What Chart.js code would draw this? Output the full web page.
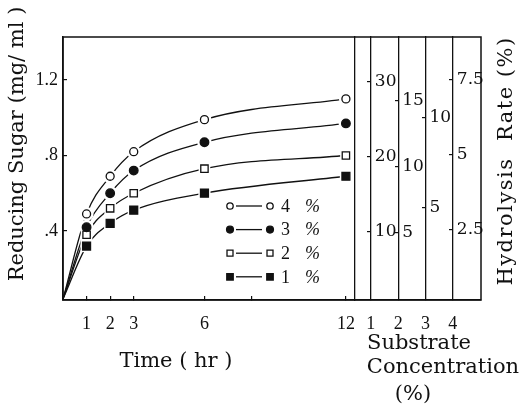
<!DOCTYPE html>
<html>
<head>
<meta charset="utf-8">
<script src="https://cdn.jsdelivr.net/npm/chart.js@4.4.1/dist/chart.umd.min.js"></script>
<style>
  html, body { margin: 0; padding: 0; background: #fff; }
  #chart { display: block; }
</style>
</head>
<body>
<canvas id="chart" width="526" height="412"></canvas>
<script>
// reducing sugar over time, one curve per substrate concentration
const hours = [0, 1, 2, 3, 6, 12];
const seriesNames = ['4', '3', '2', '1'];
const sugar4 = [0.04, 0.49, 0.69, 0.82, 0.99, 1.10];
const sugar3 = [0.04, 0.42, 0.60, 0.72, 0.87, 0.97];
const sugar2 = [0.04, 0.38, 0.52, 0.60, 0.73, 0.80];
const sugar1 = [0.04, 0.32, 0.44, 0.51, 0.60, 0.69];

const timeTicks = [1, 2, 3, 6, 8, 12];
const timeTickLabels = ['1', '2', '3', '6', '', '12'];
const sugarTicks = [0.4, 0.8, 1.2];
const sugarTickLabels = ['.4', '.8', '1.2'];

// hydrolysis rate scales, one per substrate concentration
const substrates = [1, 2, 3, 4];
const rateTicks1 = [10, 20, 30];
const rateTicks2 = [5, 10, 15];
const rateTicks3 = [5, 10];
const rateTicks4 = [2.5, 5, 7.5];
const rateMin = [0.93, -0.08, -0.11, 0.17];
const rateMax = [36.0, 19.85, 14.5, 8.93];

const ink = '#111';
const serif = '"DejaVu Serif", serif';
const numFont = { family: '"Liberation Serif", serif', size: 18 };

const markers = [
  { style: 'circle', fill: '#fff', r: 4 },
  { style: 'circle', fill: ink, r: 4.3 },
  { style: 'rect', fill: '#fff', r: 5.2 },
  { style: 'rect', fill: ink, r: 5.6 }
];

const allSugar = [sugar4, sugar3, sugar2, sugar1];
const datasets = [];
allSugar.forEach((vals, i) => {
  const pts = hours.map((h, j) => ({ x: h, y: vals[j] }));
  const m = markers[i];
  const skip = c => c.dataIndex === 0;
  datasets.push({
    label: seriesNames[i] + ' %', data: pts, order: 3,
    borderColor: ink, borderWidth: 1.3, pointRadius: 0,
    cubicInterpolationMode: 'monotone', fill: false
  });
  // white halo so the line stops short of each marker
  datasets.push({
    label: 'halo', data: pts, order: 2, showLine: false,
    pointStyle: m.style, pointRadius: c => skip(c) ? 0 : m.r + 3,
    pointBackgroundColor: '#fff', pointBorderColor: '#fff', pointBorderWidth: 0
  });
  datasets.push({
    label: 'mark', data: pts, order: 1, showLine: false,
    pointStyle: m.style, pointRadius: c => skip(c) ? 0 : m.r,
    pointBackgroundColor: m.fill, pointBorderColor: ink, pointBorderWidth: 1.3
  });
});

const rateTicks = [rateTicks1, rateTicks2, rateTicks3, rateTicks4];

function rateScale(i) {
  return {
    type: 'linear', axis: 'y',
    position: { sub: substrates[i] },
    min: rateMin[i], max: rateMax[i],
    afterBuildTicks: s => { s.ticks = rateTicks[i].map(v => ({ value: v })); },
    ticks: { display: false },
    grid: { drawOnChartArea: false, drawTicks: true, tickLength: 3, color: ink, lineWidth: 1.2 },
    border: { color: ink, width: 1.3 }
  };
}

function vText(ctx, text, x, y, size, spacing) {
  ctx.save();
  ctx.translate(x, y);
  ctx.rotate(-Math.PI / 2);
  ctx.font = size + 'px ' + serif;
  ctx.letterSpacing = spacing || '0px';
  ctx.textAlign = 'center';
  ctx.textBaseline = 'middle';
  ctx.fillText(text, 0, 0);
  ctx.restore();
}

const framePlugin = {
  id: 'frame',
  beforeDatasetsDraw(chart) {
    const { ctx, chartArea: a } = chart;
    ctx.save();
    ctx.strokeStyle = ink;
    ctx.lineWidth = 1.5;
    ctx.strokeRect(a.left, a.top, a.right - a.left, a.bottom - a.top);
    ctx.restore();
  }
};

const textPlugin = {
  id: 'texts',
  afterDraw(chart) {
    const ctx = chart.ctx;
    ctx.save();
    ctx.fillStyle = ink;

    // rate tick labels, to the right of each substrate line
    ctx.font = '17px ' + serif;
    ctx.textAlign = 'left';
    ctx.textBaseline = 'middle';
    substrates.forEach((s, i) => {
      const sc = chart.scales['h' + (i + 1)];
      const x0 = chart.scales.sub.getPixelForValue(s);
      sc.ticks.forEach(t => ctx.fillText(String(t.value), x0 + 4, sc.getPixelForValue(t.value)));
    });

    // axis titles
    vText(ctx, 'Reducing Sugar (mg/ ml )', 18, 144, 21);
    vText(ctx, 'Hydrolysis  Rate (%)', 507, 161, 21, '1.5px');
    ctx.font = '21px ' + serif;
    ctx.textAlign = 'center';
    ctx.fillText('Time ( hr )', 176, 362);
    ctx.fillText('Substrate', 419, 344);
    ctx.fillText('Concentration', 443, 368);
    ctx.fillText('(%)', 413, 395);

    // legend box inside the plot
    const lx = 230, ly = 206, dy = 23.6;
    markers.forEach((m, i) => {
      const y = ly + i * dy;
      ctx.strokeStyle = ink;
      ctx.lineWidth = 1.3;
      ctx.beginPath();
      ctx.moveTo(lx + 6, y);
      ctx.lineTo(lx + 32, y);
      ctx.stroke();
      [lx, lx + 40].forEach(x => {
        const r = m.r * 0.8;
        ctx.beginPath();
        if (m.style === 'circle') ctx.arc(x, y, r, 0, Math.PI * 2);
        else ctx.rect(x - r * 0.72, y - r * 0.72, r * 1.44, r * 1.44);
        ctx.fillStyle = m.fill;
        ctx.fill();
        ctx.stroke();
      });
      ctx.fillStyle = ink;
      ctx.textAlign = 'left';
      ctx.font = '18px "Liberation Serif", serif';
      ctx.fillText(seriesNames[i], lx + 51, y + 1);
      ctx.font = 'italic 18px "Liberation Serif", serif';
      ctx.fillText('%', lx + 75, y + 1);
    });
    ctx.restore();
  }
};

new Chart(document.getElementById('chart'), {
  type: 'line',
  data: { datasets: datasets },
  options: {
    responsive: false,
    animation: false,
    devicePixelRatio: 1,
    events: [],
    layout: { padding: { top: 37, right: 45, bottom: 0, left: 0 } },
    plugins: { legend: { display: false }, tooltip: { enabled: false } },
    scales: {
      x: {
        type: 'linear', position: 'bottom', min: 0, max: 17.73,
        afterFit: s => { s.height = 112; },
        afterBuildTicks: s => { s.ticks = timeTicks.map(v => ({ value: v })); },
        ticks: { callback: (v, i) => timeTickLabels[i], font: numFont, color: ink, padding: 17, autoSkip: false, maxRotation: 0 },
        grid: { drawOnChartArea: false, drawTicks: true, tickLength: -4, color: ink, lineWidth: 1.2 },
        border: { color: ink, width: 1.5 }
      },
      y: {
        type: 'linear', position: 'left', min: 0.034, max: 1.428,
        afterFit: s => { s.width = 63; },
        afterBuildTicks: s => { s.ticks = sugarTicks.map(v => ({ value: v })); },
        ticks: { callback: (v, i) => sugarTickLabels[i], font: numFont, color: ink, padding: 9 },
        grid: { drawOnChartArea: false, drawTicks: true, tickLength: -4, color: ink, lineWidth: 1.2 },
        border: { color: ink, width: 1.5 }
      },
      sub: {
        type: 'linear', axis: 'x', position: { y: 0.034 }, min: -10.26, max: 5.03,
        afterBuildTicks: s => { s.ticks = substrates.map(v => ({ value: v })); },
        ticks: { font: numFont, color: ink, padding: 13, autoSkip: false, maxRotation: 0 },
        grid: { display: false, drawTicks: false },
        border: { display: false }
      },
      edge: {
        type: 'linear', axis: 'y', position: { x: 12.35 }, min: 0, max: 1,
        ticks: { display: false },
        grid: { display: false, drawTicks: false },
        border: { color: ink, width: 1.3 }
      },
      h1: rateScale(0),
      h2: rateScale(1),
      h3: rateScale(2),
      h4: rateScale(3)
    }
  },
  plugins: [framePlugin, textPlugin]
});
</script>
</body>
</html>
